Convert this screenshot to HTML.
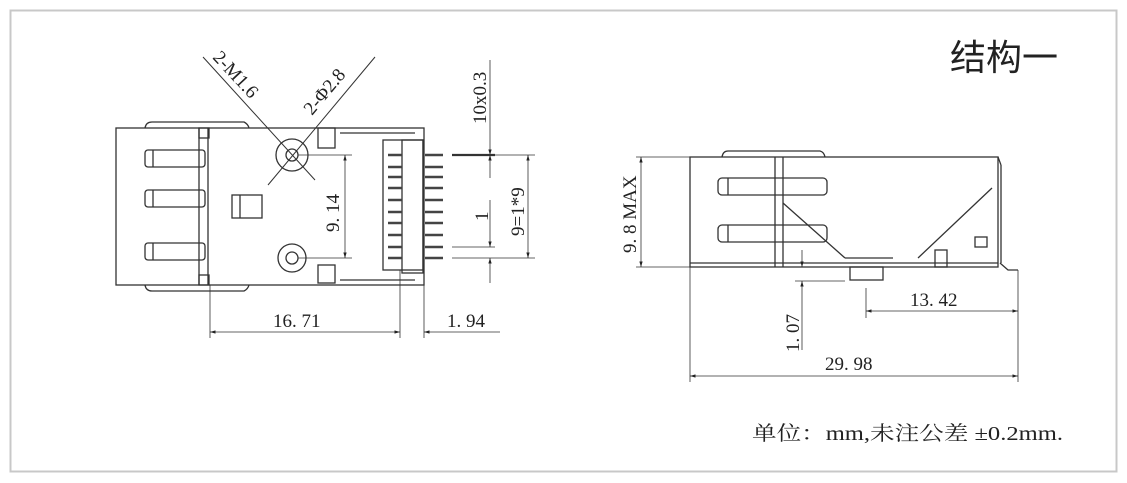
<!DOCTYPE html>
<html><head><meta charset="utf-8"><style>
html,body{margin:0;padding:0;background:#fff;width:1127px;height:483px;overflow:hidden}
svg{display:block}
text{font-family:"Liberation Serif","Noto Serif CJK SC",serif;fill:#222}
</style></head><body>
<svg width="1127" height="483" viewBox="0 0 1127 483" xmlns="http://www.w3.org/2000/svg">
<defs>
<marker id="a" viewBox="0 0 10 10" refX="10" refY="5" markerWidth="7" markerHeight="7" orient="auto-start-reverse"><path d="M0,2 L10,5 L0,8z" fill="#222"/></marker>
</defs>
<rect x="10.5" y="10.5" width="1106" height="461" fill="none" stroke="#c8c8c8" stroke-width="2"/>
<g stroke="#333" stroke-width="1.3" fill="none">
<rect x="116" y="128" width="308" height="157"/>
<line x1="199" y1="128" x2="199" y2="285"/>
<line x1="208" y1="128" x2="208" y2="285"/>
<path d="M145,128 Q146,122 152,122 L244,122 Q248,124 249,128"/>
<path d="M145,285 Q146,291 152,291 L244,291 Q248,289 249,285"/>
<rect x="145" y="150" width="60" height="17" rx="3"/>
<rect x="145" y="190" width="60" height="17" rx="3"/>
<rect x="145" y="243" width="60" height="17" rx="3"/>
<line x1="153" y1="150" x2="153" y2="167"/><line x1="153" y1="190" x2="153" y2="207"/><line x1="153" y1="243" x2="153" y2="260"/>
<rect x="199" y="128" width="10" height="10"/><rect x="199" y="275" width="10" height="10"/>
<circle cx="292" cy="155" r="16"/><circle cx="292" cy="155" r="6"/>
<circle cx="292" cy="258" r="14"/><circle cx="292" cy="258" r="6"/>
<rect x="318" y="128" width="17" height="20"/><rect x="318" y="265" width="17" height="18"/>
<rect x="232" y="195" width="30" height="23"/><line x1="240" y1="195" x2="240" y2="218"/>
<path d="M340,133 L415,133 M340,280 L415,280"/>
<rect x="383" y="140" width="40" height="130"/>
<rect x="402" y="140" width="21" height="133"/>
<g stroke-width="2.5" stroke="#444">
<line x1="388" y1="155" x2="402" y2="155"/><line x1="388" y1="167" x2="402" y2="167"/><line x1="388" y1="177" x2="402" y2="177"/><line x1="388" y1="188" x2="402" y2="188"/><line x1="388" y1="200" x2="402" y2="200"/><line x1="388" y1="212" x2="402" y2="212"/><line x1="388" y1="223" x2="402" y2="223"/><line x1="388" y1="235" x2="402" y2="235"/><line x1="388" y1="247" x2="402" y2="247"/><line x1="388" y1="258" x2="402" y2="258"/>
<line x1="425" y1="155" x2="443" y2="155"/><line x1="425" y1="167" x2="443" y2="167"/><line x1="425" y1="177" x2="443" y2="177"/><line x1="425" y1="188" x2="443" y2="188"/><line x1="425" y1="200" x2="443" y2="200"/><line x1="425" y1="212" x2="443" y2="212"/><line x1="425" y1="223" x2="443" y2="223"/><line x1="425" y1="235" x2="443" y2="235"/><line x1="425" y1="247" x2="443" y2="247"/><line x1="425" y1="258" x2="443" y2="258"/>
</g>
<line x1="203" y1="57" x2="315" y2="180" stroke-width="1"/>
<line x1="375" y1="57" x2="268" y2="185" stroke-width="1"/>
<line x1="298" y1="155" x2="352" y2="155" stroke-width="0.8"/><line x1="298" y1="258" x2="352" y2="258" stroke-width="0.8"/>
<line x1="345" y1="155" x2="345" y2="258" stroke-width="0.8" marker-start="url(#a)" marker-end="url(#a)"/>
<line x1="452" y1="155" x2="495" y2="155" stroke-width="2.2"/>
<line x1="452" y1="247" x2="495" y2="247" stroke-width="0.8"/>
<line x1="452" y1="258" x2="535" y2="258" stroke-width="0.8"/>
<line x1="495" y1="155" x2="535" y2="155" stroke-width="0.8"/>
<line x1="490" y1="60" x2="490" y2="155" stroke-width="0.8" marker-end="url(#a)"/>
<line x1="490" y1="155" x2="490" y2="178" stroke-width="0.8" marker-start="url(#a)"/>
<line x1="490" y1="200" x2="490" y2="247" stroke-width="0.8" marker-end="url(#a)"/>
<line x1="490" y1="258" x2="490" y2="283" stroke-width="0.8" marker-start="url(#a)"/>
<line x1="528" y1="155" x2="528" y2="258" stroke-width="0.8" marker-start="url(#a)" marker-end="url(#a)"/>
<line x1="210" y1="285" x2="210" y2="338" stroke-width="0.8"/>
<line x1="400" y1="270" x2="400" y2="338" stroke-width="0.8"/>
<line x1="424" y1="285" x2="424" y2="338" stroke-width="0.8"/>
<line x1="210" y1="332" x2="400" y2="332" stroke-width="0.8" marker-start="url(#a)" marker-end="url(#a)"/>
<line x1="424" y1="332" x2="500" y2="332" stroke-width="0.8" marker-start="url(#a)"/>
<rect x="690" y="157" width="308" height="110"/>
<line x1="998" y1="157" x2="1001" y2="165"/><line x1="1001" y1="165" x2="1001" y2="263"/>
<path d="M722,157 Q723,151 728,151 L820,151 Q824,152 825,157"/>
<line x1="775" y1="157" x2="775" y2="267"/><line x1="783" y1="157" x2="783" y2="267"/>
<rect x="718" y="178" width="109" height="17" rx="4"/><line x1="728" y1="178" x2="728" y2="195"/>
<rect x="718" y="225" width="109" height="17" rx="4"/><line x1="728" y1="225" x2="728" y2="242"/>
<line x1="783" y1="203" x2="845" y2="258"/><line x1="845" y1="258" x2="893" y2="258"/>
<line x1="918" y1="258" x2="992" y2="188"/>
<rect x="975" y="237" width="12" height="10"/>
<rect x="935" y="250" width="12" height="17"/>
<line x1="690" y1="263" x2="998" y2="263"/>
<path d="M1000,263 L1008,270 L1018,270"/>
<rect x="850" y="267" width="33" height="13"/>
<line x1="636" y1="157" x2="690" y2="157" stroke-width="0.8"/><line x1="636" y1="267" x2="690" y2="267" stroke-width="0.8"/>
<line x1="641" y1="157" x2="641" y2="267" stroke-width="0.8" marker-start="url(#a)" marker-end="url(#a)"/>
<line x1="795" y1="281" x2="845" y2="281" stroke-width="0.8"/>
<line x1="802" y1="250" x2="802" y2="267" stroke-width="0.8" marker-end="url(#a)"/>
<line x1="802" y1="281" x2="802" y2="350" stroke-width="0.8" marker-start="url(#a)"/>
<line x1="866" y1="288" x2="866" y2="318" stroke-width="0.8"/>
<line x1="866" y1="311" x2="1018" y2="311" stroke-width="0.8" marker-start="url(#a)" marker-end="url(#a)"/>
<line x1="690" y1="267" x2="690" y2="382" stroke-width="0.8"/>
<line x1="1018" y1="270" x2="1018" y2="382" stroke-width="0.8"/>
<line x1="690" y1="376" x2="1018" y2="376" stroke-width="0.8" marker-start="url(#a)" marker-end="url(#a)"/>
</g>
<g font-size="19">
<text transform="translate(212,58) rotate(47)">2-M1.6</text>
<text transform="translate(312,116) rotate(-50)">2-Φ2.8</text>
<text transform="translate(339,232) rotate(-90)">9. 14</text>
<text transform="translate(486,124) rotate(-90)">10x0.3</text>
<text transform="translate(488,221) rotate(-90)">1</text>
<text transform="translate(524,236) rotate(-90)">9=1*9</text>
<text x="273" y="327">16. 71</text>
<text x="447" y="327">1. 94</text>
<text transform="translate(636,253) rotate(-90)">9. 8 MAX</text>
<text transform="translate(799,352) rotate(-90)">1. 07</text>
<text x="910" y="306">13. 42</text>
<text x="825" y="370">29. 98</text>
<text x="752" y="440" font-size="20" textLength="311" lengthAdjust="spacingAndGlyphs">单位：mm,未注公差 ±0.2mm.</text>
</g>
<text x="950" y="70" font-size="36" style="font-family:'Liberation Sans','Noto Sans CJK SC',sans-serif" fill="#333">结构一</text>
</svg>
</body></html>
